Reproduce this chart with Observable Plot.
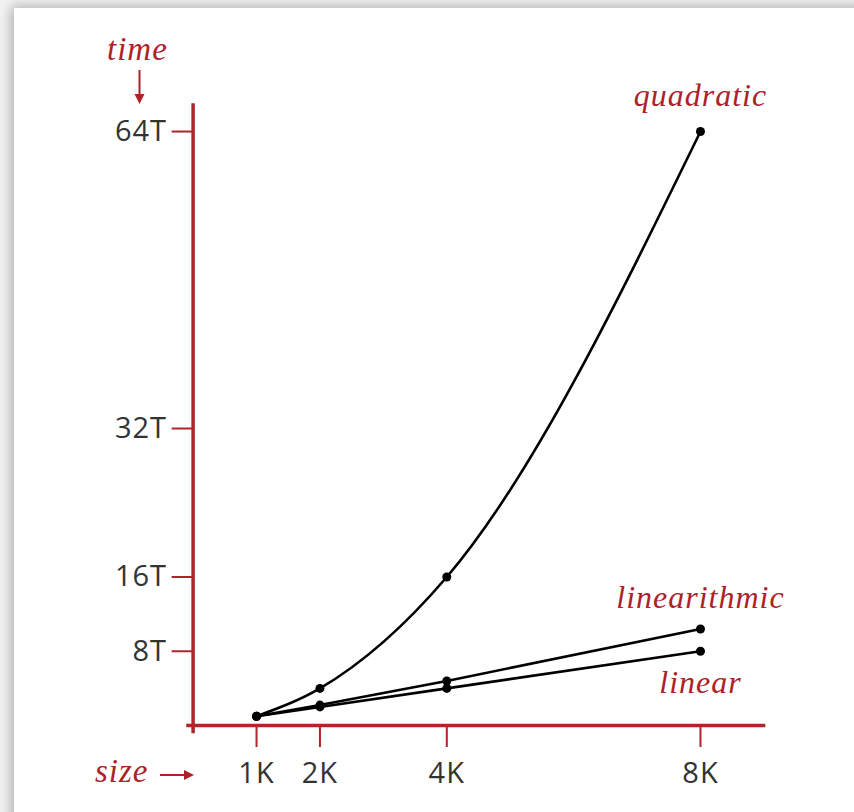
<!DOCTYPE html>
<html>
<head>
<meta charset="utf-8">
<script src="https://cdn.jsdelivr.net/npm/d3@7"></script>
<script src="https://cdn.jsdelivr.net/npm/@observablehq/plot@0.6"></script>
<style>
  html, body { margin: 0; padding: 0; background: #f3f3f3; }
  #wrap { position: relative; width: 854px; height: 812px; overflow: hidden; }
  #card { position: absolute; left: 14px; top: 8px; width: 900px; height: 900px; background: #fff;
          box-shadow: -3px -2px 12px rgba(0,0,0,0.28); }
  #chart { position: absolute; left: 0; top: 0; }
  .lab { position: absolute; font-family: "Liberation Serif", serif; font-style: italic;
         font-size: 33px; color: #ad2229; letter-spacing: 1px; line-height: 1; }
  svg.arrow { position: absolute; overflow: visible; }
</style>
</head>
<body>
<div id="wrap">
  <div id="card"></div>
  <div id="chart"></div>
  <div class="lab" id="ylab" style="left:107px; top:33px;">time</div>
  <svg class="arrow" style="left:0;top:0" width="854" height="812">
    <g stroke="#ad2229" fill="#ad2229" stroke-width="2">
      <line x1="139.5" y1="70" x2="139.5" y2="96"/>
      <path d="M134.5,94 L139.5,104 L144.5,94 Z" stroke="none"/>
      <line x1="160" y1="775" x2="186" y2="775"/>
      <path d="M184,770 L194,775 L184,780 Z" stroke="none"/>
    </g>
  </svg>
  <div class="lab" id="xlab" style="left:95px; top:755px;">size</div>
</div>
<script>
// problem sizes (in K)
const sizes = [1, 2, 4, 8];
// running times (in units of T)
const linearTimes = [1, 2, 4, 8];
const linearithmicTimes = [1, 2.2, 4.8, 10.4];
const quadraticTimes = [1, 4, 16, 64];
const seriesNames = ["linear", "linearithmic", "quadratic"];
const xTicks = [1, 2, 4, 8];
const xTickLabels = ["1K", "2K", "4K", "8K"];
const yTicks = [8, 16, 32, 64];
const yTickLabels = ["8T", "16T", "32T", "64T"];

const red = "#b0252b";
const seriesValues = [linearTimes, linearithmicTimes, quadraticTimes];
const rows = seriesNames.flatMap((name, i) =>
  sizes.map((s, j) => ({series: name, size: s, time: seriesValues[i][j]})));
const lastRows = seriesNames.map((name, i) => ({series: name, size: sizes[sizes.length - 1], time: seriesValues[i][sizes.length - 1]}));
const labelDy = {linear: 31, linearithmic: -31, quadratic: -36};

const plot = Plot.plot({
  width: 854,
  height: 812,
  marginLeft: 192.6,
  marginRight: 90.6,
  marginTop: 103.2,
  marginBottom: 87,
  x: {domain: [0, 9]},
  y: {domain: [0, 67]},
  style: {background: "transparent", overflow: "visible"},
  marks: [
    Plot.axisX({ticks: xTicks, tickFormat: d => xTickLabels[xTicks.indexOf(d)], tickSize: 22, tickPadding: 15,
      stroke: red, strokeWidth: 2, fill: "#333", fontSize: 29, fontFamily: "Open Sans", label: null}),
    Plot.axisY({ticks: yTicks, tickFormat: d => yTickLabels[yTicks.indexOf(d)], tickSize: 21, tickPadding: 5,
      stroke: red, strokeWidth: 2, fill: "#333", fontSize: 29, fontFamily: "Open Sans", label: null}),
    Plot.ruleY([0], {x1: -0.1, x2: 9.03, stroke: red, strokeWidth: 3.5}),
    Plot.ruleX([0], {y1: -0.9, y2: 67, stroke: red, strokeWidth: 3.5}),
    Plot.line(rows.filter(d => d.series === "quadratic"), {x: "size", y: "time", stroke: "#000", strokeWidth: 2.6, curve: "monotone-x"}),
    Plot.line(rows.filter(d => d.series !== "quadratic"), {x: "size", y: "time", z: "series", stroke: "#000", strokeWidth: 2.6}),
    Plot.dot(rows, {x: "size", y: "time", r: 4.5, fill: "#000"}),
    ...lastRows.map(d => Plot.text([d], {x: "size", y: "time", text: "series", dy: labelDy[d.series],
      fill: "#ad2229", fontSize: 32, fontStyle: "italic", fontFamily: "Liberation Serif", textAnchor: "middle", lineAnchor: "middle"}))
  ]
});
plot.querySelectorAll("text").forEach(t => t.setAttribute("letter-spacing", "1"));
document.getElementById("chart").appendChild(plot);
</script>
</body>
</html>
